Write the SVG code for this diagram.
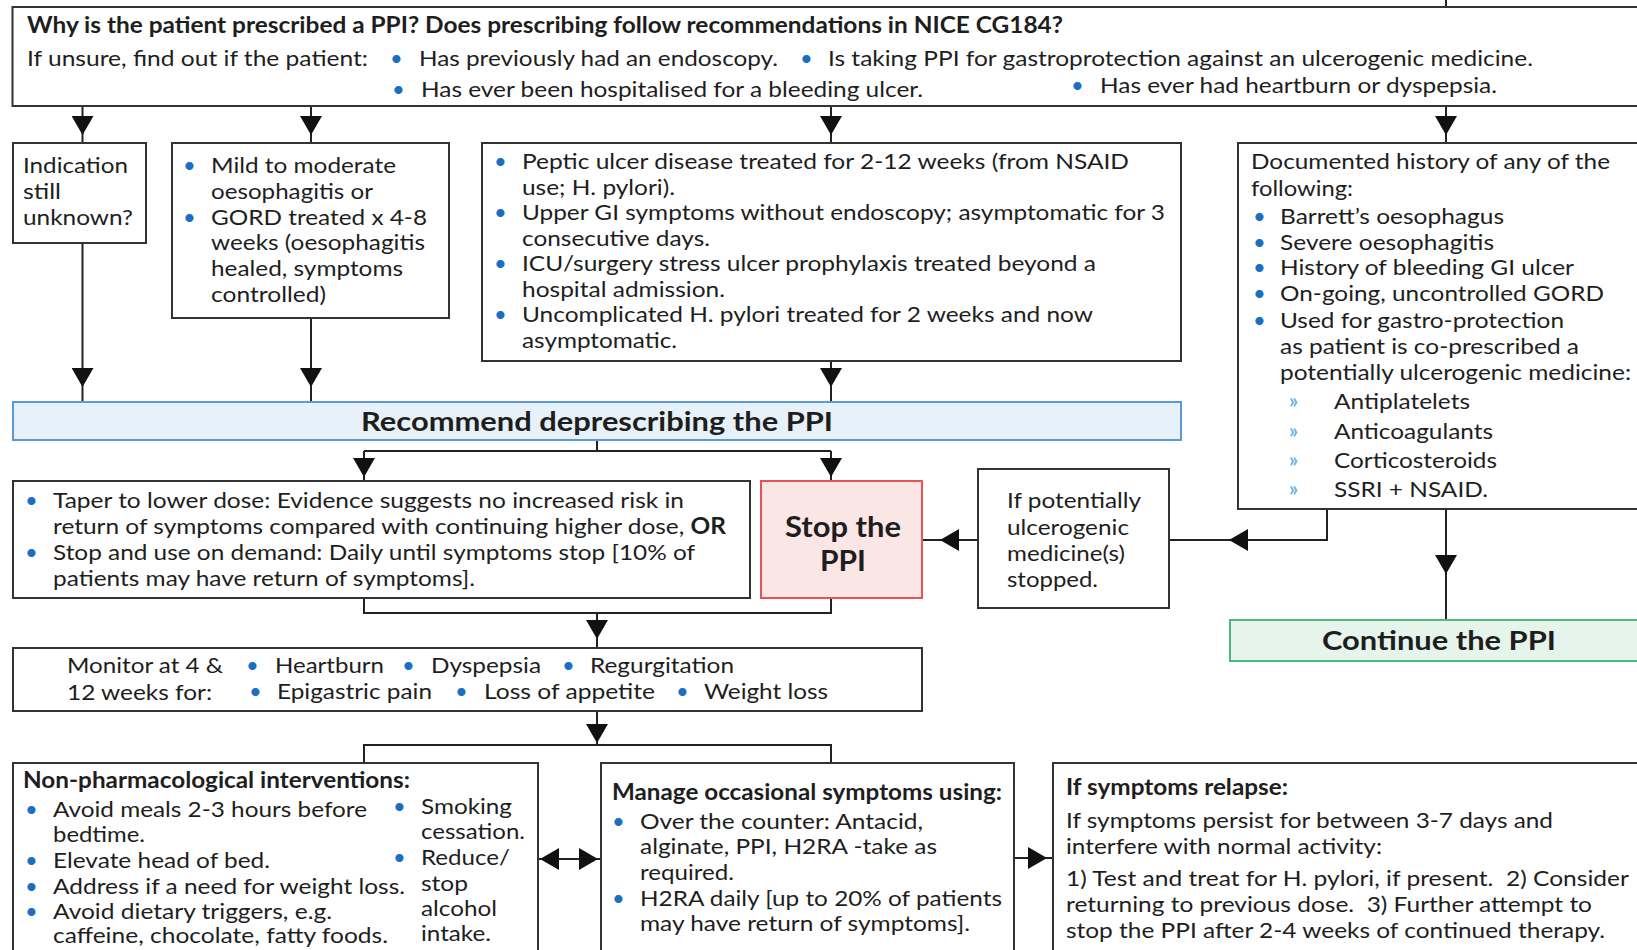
<svg xmlns="http://www.w3.org/2000/svg" width="1637" height="950" viewBox="0 0 1637 950">
<defs>
<style>
.box{fill:#fff;stroke:#333;stroke-width:2}
.t{font-family:Lato,"Open Sans","Liberation Sans",sans-serif;font-size:22px;fill:#1e1e1e}
.b{font-weight:bold}
.bl{fill:#1a6fc4}
.sb{fill:#6ab4e8;font-size:20px;font-weight:bold}
.c{fill:none;stroke:#222;stroke-width:2}
.big{font-size:26px}
.stop{font-size:28px}
</style>
<marker id="ah" markerUnits="userSpaceOnUse" markerWidth="20" markerHeight="22" refX="19" refY="11" orient="auto"><path d="M0,0 L19,11 L0,22 z" fill="#111"/></marker>
</defs>
<rect width="1637" height="950" fill="#fff"/>

<g id="connectors">
<path class="c" d="M1446,0 V7"/>
<path class="c" d="M82.5,106 V135 V143" marker-mid="url(#ah)"/>
<path class="c" d="M311,106 V135 V143" marker-mid="url(#ah)"/>
<path class="c" d="M831,106 V135 V143" marker-mid="url(#ah)"/>
<path class="c" d="M1446,106 V135 V143" marker-mid="url(#ah)"/>
<path class="c" d="M82.5,243 V387 V402" marker-mid="url(#ah)"/>
<path class="c" d="M311,318 V387 V402" marker-mid="url(#ah)"/>
<path class="c" d="M831,361 V387 V402" marker-mid="url(#ah)"/>
<path class="c" d="M597,440 V451 M364,451 H831"/>
<path class="c" d="M364,451 V477 V481" marker-mid="url(#ah)"/>
<path class="c" d="M831,451 V477 V481" marker-mid="url(#ah)"/>
<path class="c" d="M1327,509 V540 H1229" marker-end="url(#ah)"/>
<path class="c" d="M1229,540 H1169"/>
<path class="c" d="M978,540 H940 H922" marker-mid="url(#ah)"/>
<path class="c" d="M1446,509 V574 V620" marker-mid="url(#ah)"/>
<path class="c" d="M364,598 V613 H831 V598"/>
<path class="c" d="M597,613 V639 V648" marker-mid="url(#ah)"/>
<path class="c" d="M597,711 V743 V745" marker-mid="url(#ah)"/>
<path class="c" d="M364,763 V745 H831 V763"/>
<path class="c" d="M538,859 H601"/>
<path class="c" d="M570,859 H540" marker-end="url(#ah)"/>
<path class="c" d="M570,859 H598" marker-end="url(#ah)"/>
<path class="c" d="M1014,858 H1047 H1053" marker-mid="url(#ah)"/>
</g>

<g id="top">
<rect class="box" x="12.5" y="7" width="1640" height="99"/>
<text class="t b" x="27" y="33" textLength="1036" lengthAdjust="spacingAndGlyphs">Why is the patient prescribed a PPI? Does prescribing follow recommendations in NICE CG184?</text>
<text class="t" x="27" y="66" textLength="341" lengthAdjust="spacingAndGlyphs">If unsure, find out if the patient:</text>
<text class="t bl" x="390" y="66">•</text>
<text class="t" x="419" y="66" textLength="359" lengthAdjust="spacingAndGlyphs">Has previously had an endoscopy.</text>
<text class="t bl" x="800" y="66">•</text>
<text class="t" x="828" y="66" textLength="705" lengthAdjust="spacingAndGlyphs">Is taking PPI for gastroprotection against an ulcerogenic medicine.</text>
<text class="t bl" x="392" y="97">•</text>
<text class="t" x="421" y="97" textLength="502" lengthAdjust="spacingAndGlyphs">Has ever been hospitalised for a bleeding ulcer.</text>
<text class="t bl" x="1071" y="93">•</text>
<text class="t" x="1100" y="93" textLength="397" lengthAdjust="spacingAndGlyphs">Has ever had heartburn or dyspepsia.</text>
</g>

<g id="indication">
<rect class="box" x="13" y="143" width="133" height="100"/>
<text class="t" x="23" y="173" textLength="105" lengthAdjust="spacingAndGlyphs">Indication</text>
<text class="t" x="23" y="199" textLength="38" lengthAdjust="spacingAndGlyphs">still</text>
<text class="t" x="23" y="225" textLength="110" lengthAdjust="spacingAndGlyphs">unknown?</text>
</g>

<g id="mild">
<rect class="box" x="172" y="143" width="277" height="175"/>
<text class="t bl" x="183" y="173">•</text>
<text class="t" x="211" y="173" textLength="185" lengthAdjust="spacingAndGlyphs">Mild to moderate</text>
<text class="t" x="211" y="199" textLength="162" lengthAdjust="spacingAndGlyphs">oesophagitis or</text>
<text class="t bl" x="183" y="225">•</text>
<text class="t" x="211" y="225" textLength="216" lengthAdjust="spacingAndGlyphs">GORD treated x 4-8</text>
<text class="t" x="211" y="250" textLength="214" lengthAdjust="spacingAndGlyphs">weeks (oesophagitis</text>
<text class="t" x="211" y="276" textLength="192" lengthAdjust="spacingAndGlyphs">healed, symptoms</text>
<text class="t" x="211" y="302" textLength="115" lengthAdjust="spacingAndGlyphs">controlled)</text>
</g>

<g id="peptic">
<rect class="box" x="482" y="143" width="699" height="218"/>
<text class="t bl" x="494" y="169">•</text>
<text class="t" x="522" y="169" textLength="607" lengthAdjust="spacingAndGlyphs">Peptic ulcer disease treated for 2-12 weeks (from NSAID</text>
<text class="t" x="522" y="195" textLength="153" lengthAdjust="spacingAndGlyphs">use; H. pylori).</text>
<text class="t bl" x="494" y="220">•</text>
<text class="t" x="522" y="220" textLength="643" lengthAdjust="spacingAndGlyphs">Upper GI symptoms without endoscopy; asymptomatic for 3</text>
<text class="t" x="522" y="246" textLength="188" lengthAdjust="spacingAndGlyphs">consecutive days.</text>
<text class="t bl" x="494" y="271">•</text>
<text class="t" x="522" y="271" textLength="574" lengthAdjust="spacingAndGlyphs">ICU/surgery stress ulcer prophylaxis treated beyond a</text>
<text class="t" x="522" y="297" textLength="203" lengthAdjust="spacingAndGlyphs">hospital admission.</text>
<text class="t bl" x="494" y="322">•</text>
<text class="t" x="522" y="322" textLength="571" lengthAdjust="spacingAndGlyphs">Uncomplicated H. pylori treated for 2 weeks and now</text>
<text class="t" x="522" y="348" textLength="155" lengthAdjust="spacingAndGlyphs">asymptomatic.</text>
</g>

<g id="documented">
<rect class="box" x="1238" y="143" width="420" height="366"/>
<text class="t" x="1251" y="169" textLength="359" lengthAdjust="spacingAndGlyphs">Documented history of any of the</text>
<text class="t" x="1251" y="196" textLength="102" lengthAdjust="spacingAndGlyphs">following:</text>
<text class="t bl" x="1253" y="224">•</text>
<text class="t" x="1280" y="224" textLength="224" lengthAdjust="spacingAndGlyphs">Barrett’s oesophagus</text>
<text class="t bl" x="1253" y="250">•</text>
<text class="t" x="1280" y="250" textLength="214" lengthAdjust="spacingAndGlyphs">Severe oesophagitis</text>
<text class="t bl" x="1253" y="275">•</text>
<text class="t" x="1280" y="275" textLength="294" lengthAdjust="spacingAndGlyphs">History of bleeding GI ulcer</text>
<text class="t bl" x="1253" y="301">•</text>
<text class="t" x="1280" y="301" textLength="324" lengthAdjust="spacingAndGlyphs">On-going, uncontrolled GORD</text>
<text class="t bl" x="1253" y="328">•</text>
<text class="t" x="1280" y="328" textLength="284" lengthAdjust="spacingAndGlyphs">Used for gastro-protection</text>
<text class="t" x="1280" y="354" textLength="299" lengthAdjust="spacingAndGlyphs">as patient is co-prescribed a</text>
<text class="t" x="1280" y="380" textLength="351" lengthAdjust="spacingAndGlyphs">potentially ulcerogenic medicine:</text>
<text class="t sb" x="1289" y="408">»</text>
<text class="t" x="1334" y="409" textLength="136" lengthAdjust="spacingAndGlyphs">Antiplatelets</text>
<text class="t sb" x="1289" y="438">»</text>
<text class="t" x="1334" y="439" textLength="159" lengthAdjust="spacingAndGlyphs">Anticoagulants</text>
<text class="t sb" x="1289" y="467">»</text>
<text class="t" x="1334" y="468" textLength="163" lengthAdjust="spacingAndGlyphs">Corticosteroids</text>
<text class="t sb" x="1289" y="496">»</text>
<text class="t" x="1334" y="497" textLength="154" lengthAdjust="spacingAndGlyphs">SSRI + NSAID.</text>
</g>

<g id="recommend">
<rect x="13" y="402" width="1168" height="38" fill="#e7f1fa" stroke="#5b9bd5" stroke-width="2"/>
<text class="t b big" x="597" y="431" text-anchor="middle" textLength="472" lengthAdjust="spacingAndGlyphs">Recommend deprescribing the PPI</text>
</g>

<g id="taper">
<rect class="box" x="13" y="481" width="737" height="117"/>
<text class="t bl" x="25" y="508">•</text>
<text class="t" x="53" y="508" textLength="631" lengthAdjust="spacingAndGlyphs">Taper to lower dose: Evidence suggests no increased risk in</text>
<text class="t" x="53" y="534" textLength="673" lengthAdjust="spacingAndGlyphs">return of symptoms compared with continuing higher dose, <tspan font-weight="bold">OR</tspan></text>
<text class="t bl" x="25" y="560">•</text>
<text class="t" x="53" y="560" textLength="642" lengthAdjust="spacingAndGlyphs">Stop and use on demand: Daily until symptoms stop [10% of</text>
<text class="t" x="53" y="586" textLength="422" lengthAdjust="spacingAndGlyphs">patients may have return of symptoms].</text>
</g>

<g id="stop">
<rect x="761" y="481" width="161" height="117" fill="#fbe6e6" stroke="#e6545a" stroke-width="2"/>
<text class="t b stop" x="843" y="537" text-anchor="middle" textLength="116" lengthAdjust="spacingAndGlyphs">Stop the</text>
<text class="t b stop" x="843" y="571" text-anchor="middle" textLength="46" lengthAdjust="spacingAndGlyphs">PPI</text>
</g>

<g id="ifpot">
<rect class="box" x="978" y="469" width="191" height="139"/>
<text class="t" x="1007" y="508" textLength="134" lengthAdjust="spacingAndGlyphs">If potentially</text>
<text class="t" x="1007" y="535" textLength="122" lengthAdjust="spacingAndGlyphs">ulcerogenic</text>
<text class="t" x="1007" y="561" textLength="118" lengthAdjust="spacingAndGlyphs">medicine(s)</text>
<text class="t" x="1007" y="587" textLength="91" lengthAdjust="spacingAndGlyphs">stopped.</text>
</g>

<g id="continue">
<rect x="1230" y="620" width="420" height="41" fill="#e6f5ec" stroke="#52b77a" stroke-width="2"/>
<text class="t b big" x="1439" y="650" text-anchor="middle" textLength="234" lengthAdjust="spacingAndGlyphs">Continue the PPI</text>
</g>

<g id="monitor">
<rect class="box" x="13" y="648" width="909" height="63"/>
<text class="t" x="67" y="673" textLength="156" lengthAdjust="spacingAndGlyphs">Monitor at 4 &amp;</text>
<text class="t" x="67" y="700" textLength="145" lengthAdjust="spacingAndGlyphs">12 weeks for:</text>
<text class="t bl" x="246" y="673">•</text>
<text class="t" x="275" y="673" textLength="109" lengthAdjust="spacingAndGlyphs">Heartburn</text>
<text class="t bl" x="402" y="673">•</text>
<text class="t" x="431" y="673" textLength="110" lengthAdjust="spacingAndGlyphs">Dyspepsia</text>
<text class="t bl" x="562" y="673">•</text>
<text class="t" x="590" y="673" textLength="144" lengthAdjust="spacingAndGlyphs">Regurgitation</text>
<text class="t bl" x="249" y="699">•</text>
<text class="t" x="277" y="699" textLength="155" lengthAdjust="spacingAndGlyphs">Epigastric pain</text>
<text class="t bl" x="455" y="699">•</text>
<text class="t" x="484" y="699" textLength="171" lengthAdjust="spacingAndGlyphs">Loss of appetite</text>
<text class="t bl" x="676" y="699">•</text>
<text class="t" x="704" y="699" textLength="124" lengthAdjust="spacingAndGlyphs">Weight loss</text>
</g>

<g id="nonpharm">
<rect class="box" x="13" y="763" width="525" height="200"/>
<text class="t b" x="23" y="788" textLength="387" lengthAdjust="spacingAndGlyphs">Non-pharmacological interventions:</text>
<text class="t bl" x="25" y="817">•</text>
<text class="t" x="53" y="817" textLength="314" lengthAdjust="spacingAndGlyphs">Avoid meals 2-3 hours before</text>
<text class="t" x="53" y="842" textLength="92" lengthAdjust="spacingAndGlyphs">bedtime.</text>
<text class="t bl" x="25" y="868">•</text>
<text class="t" x="53" y="868" textLength="217" lengthAdjust="spacingAndGlyphs">Elevate head of bed.</text>
<text class="t bl" x="25" y="894">•</text>
<text class="t" x="53" y="894" textLength="352" lengthAdjust="spacingAndGlyphs">Address if a need for weight loss.</text>
<text class="t bl" x="25" y="919">•</text>
<text class="t" x="53" y="919" textLength="279" lengthAdjust="spacingAndGlyphs">Avoid dietary triggers, e.g.</text>
<text class="t" x="53" y="943" textLength="335" lengthAdjust="spacingAndGlyphs">caffeine, chocolate, fatty foods.</text>
<text class="t bl" x="393" y="814">•</text>
<text class="t" x="421" y="814" textLength="91" lengthAdjust="spacingAndGlyphs">Smoking</text>
<text class="t" x="421" y="839" textLength="104" lengthAdjust="spacingAndGlyphs">cessation.</text>
<text class="t bl" x="393" y="865">•</text>
<text class="t" x="421" y="865" textLength="89" lengthAdjust="spacingAndGlyphs">Reduce/</text>
<text class="t" x="421" y="891" textLength="47" lengthAdjust="spacingAndGlyphs">stop</text>
<text class="t" x="421" y="916" textLength="76" lengthAdjust="spacingAndGlyphs">alcohol</text>
<text class="t" x="421" y="941" textLength="70" lengthAdjust="spacingAndGlyphs">intake.</text>
</g>

<g id="manage">
<rect class="box" x="601" y="763" width="413" height="200"/>
<text class="t b" x="612" y="800" textLength="390" lengthAdjust="spacingAndGlyphs">Manage occasional symptoms using:</text>
<text class="t bl" x="612" y="829">•</text>
<text class="t" x="640" y="829" textLength="283" lengthAdjust="spacingAndGlyphs">Over the counter: Antacid,</text>
<text class="t" x="640" y="854" textLength="297" lengthAdjust="spacingAndGlyphs">alginate, PPI, H2RA -take as</text>
<text class="t" x="640" y="880" textLength="94" lengthAdjust="spacingAndGlyphs">required.</text>
<text class="t bl" x="612" y="906">•</text>
<text class="t" x="640" y="906" textLength="362" lengthAdjust="spacingAndGlyphs">H2RA daily [up to 20% of patients</text>
<text class="t" x="640" y="931" textLength="330" lengthAdjust="spacingAndGlyphs">may have return of symptoms].</text>
</g>

<g id="relapse">
<rect class="box" x="1053" y="763" width="600" height="200"/>
<text class="t b" x="1066" y="795" textLength="222" lengthAdjust="spacingAndGlyphs">If symptoms relapse:</text>
<text class="t" x="1066" y="828" textLength="487" lengthAdjust="spacingAndGlyphs">If symptoms persist for between 3-7 days and</text>
<text class="t" x="1066" y="854" textLength="316" lengthAdjust="spacingAndGlyphs">interfere with normal activity:</text>
<text class="t" x="1066" y="886" textLength="563" lengthAdjust="spacingAndGlyphs" xml:space="preserve">1) Test and treat for H. pylori, if present.  2) Consider</text>
<text class="t" x="1066" y="912" textLength="526" lengthAdjust="spacingAndGlyphs" xml:space="preserve">returning to previous dose.  3) Further attempt to</text>
<text class="t" x="1066" y="938" textLength="539" lengthAdjust="spacingAndGlyphs">stop the PPI after 2-4 weeks of continued therapy.</text>
</g>
</svg>
